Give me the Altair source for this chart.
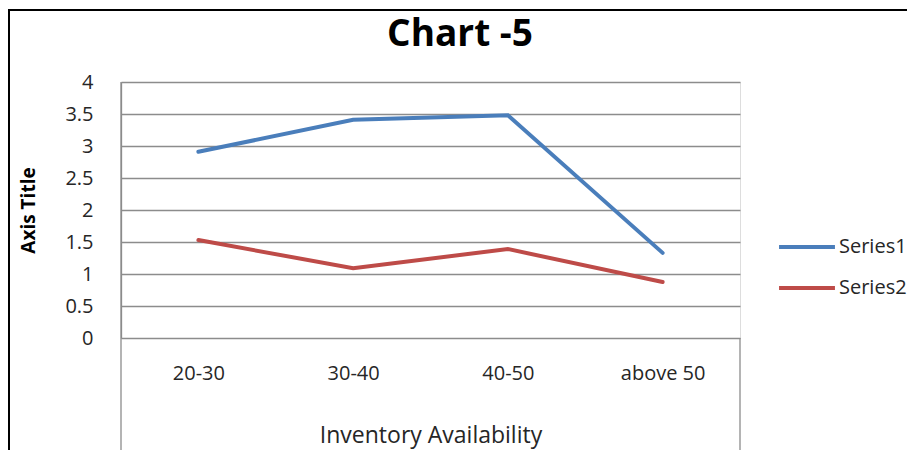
import altair as alt
import pandas as pd

# Inventory availability bands and the two series
categories = ["20-30", "30-40", "40-50", "above 50"]
series1 = [2.91, 3.41, 3.48, 1.33]
series2 = [1.53, 1.09, 1.39, 0.875]
series_names = ["Series1", "Series2"]
y_ticks = [0, 0.5, 1, 1.5, 2, 2.5, 3, 3.5, 4]
chart_title = "Chart -5"

rows = []
for name, vals in zip(series_names, [series1, series2]):
    for cat, v in zip(categories, vals):
        rows.append({"band": cat, "series": name, "value": v})
df = pd.DataFrame(rows)

W, H = 619, 256
FONT = "Open Sans"

lines = alt.Chart(df).mark_line(strokeWidth=4, strokeCap="round").encode(
    x=alt.X(
        "band:N",
        sort=categories,
        scale=alt.Scale(domain=categories, padding=0.5),
        axis=alt.Axis(
            title="Inventory Availability",
            labelAngle=0,
            labelFontSize=20,
            labelPadding=25,
            labelColor="#262626",
            labelFont=FONT,
            ticks=False,
            domain=False,
            grid=False,
            titleFont=FONT,
            titleFontSize=23,
            titleFontWeight="normal",
            titleColor="#262626",
            titleX=W / 2,
            titleY=97,
            titleBaseline="middle",
        ),
    ),
    y=alt.Y(
        "value:Q",
        scale=alt.Scale(domain=[0, 4], nice=False),
        axis=alt.Axis(
            title="Axis Title",
            values=y_ticks,
            format="~g",
            labelFontSize=20,
            labelFont=FONT,
            labelColor="#262626",
            labelPadding=28,
            ticks=False,
            domain=True,
            domainColor="#8c8c8c",
            domainWidth=1.3,
            gridColor="#8c8c8c",
            gridWidth=1.3,
            gridOpacity=1,
            titleFont=FONT,
            titleFontSize=19,
            titleFontWeight="bold",
            titleColor="#000000",
            titleAngle=-90,
            titleX=-93,
            titleY=H / 2,
            titleAlign="center",
            titleBaseline="middle",
        ),
    ),
    color=alt.Color(
        "series:N",
        scale=alt.Scale(domain=series_names, range=["#4a7ebb", "#be4b48"]),
        legend=alt.Legend(
            title=None,
            orient="none",
            legendX=676,
            legendY=155,
            symbolType="M-5,0H5",
            symbolSize=125,
            symbolStrokeWidth=4,
            labelOffset=22,
            labelFont=FONT,
            labelFontSize=20,
            labelColor="#262626",
            rowPadding=21,
            padding=0,
            labelLimit=200,
        ),
    ),
)

# Chart heading
title_text = alt.Chart(pd.DataFrame({"t": [chart_title]})).mark_text(
    font=FONT, fontSize=37, fontWeight="bold", color="#000000",
    align="center", baseline="alphabetic",
).encode(text="t:N", x=alt.value(339), y=alt.value(-36))

# Frame lines: axis box continuing below the zero line, and the outer chart border
frame = pd.DataFrame({"k": [0]})
left_rule = alt.Chart(frame).mark_rule(color="#8c8c8c", strokeWidth=1.3).encode(
    x=alt.value(0), y=alt.value(0), y2=alt.value(400)
)
right_rule = alt.Chart(frame).mark_rule(color="#8c8c8c", strokeWidth=1.3).encode(
    x=alt.value(W), y=alt.value(H), y2=alt.value(400)
)
outer_left = alt.Chart(frame).mark_rule(color="#000000", strokeWidth=2).encode(
    x=alt.value(-112), y=alt.value(-72), y2=alt.value(400)
)
outer_top = alt.Chart(frame).mark_rule(color="#000000", strokeWidth=2).encode(
    x=alt.value(-113), x2=alt.value(800), y=alt.value(-72)
)

chart = alt.layer(
    lines, title_text, left_rule, right_rule, outer_left, outer_top
).properties(
    width=W,
    height=H,
    autosize=alt.AutoSizeParams(type="none"),
    padding={"left": 121, "top": 82, "right": 167, "bottom": 112},
).configure_view(stroke=None).configure(background="white")

chart.save("out.html", embed_options={"renderer": "svg", "actions": False})
